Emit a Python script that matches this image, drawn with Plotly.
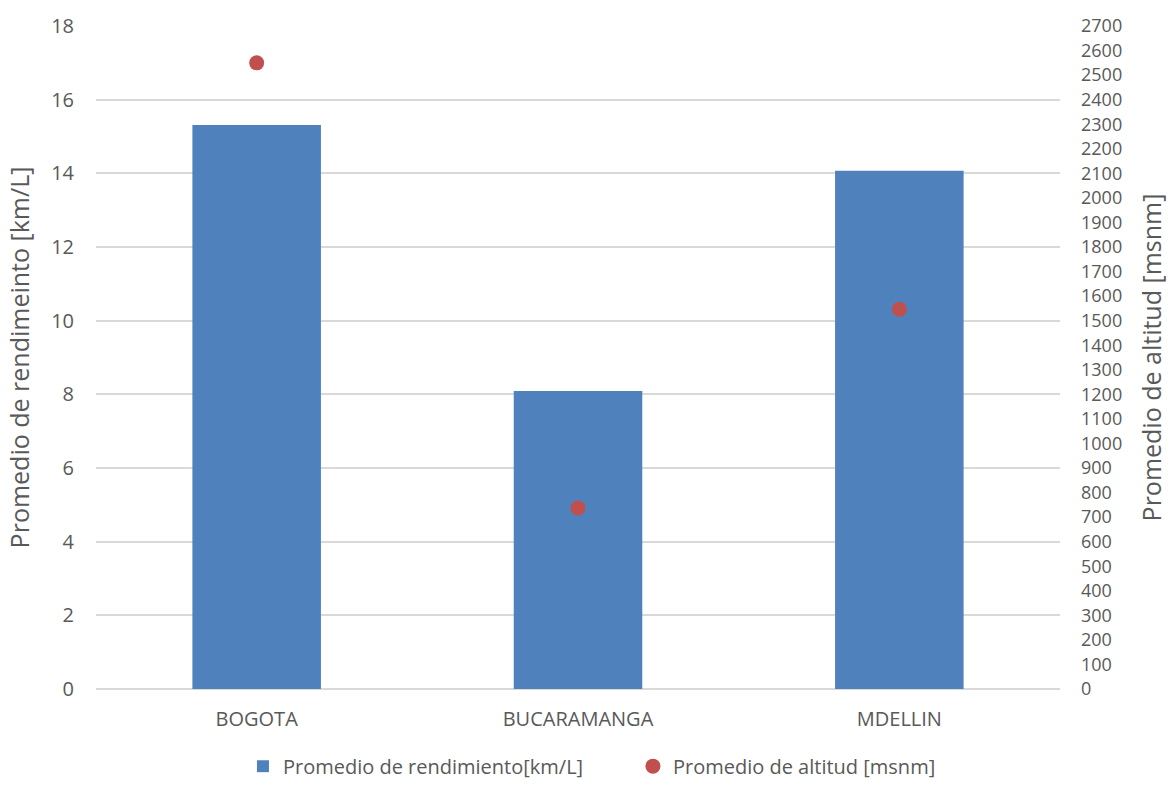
import plotly.graph_objects as go

ciudades = ["BOGOTA", "BUCARAMANGA", "MDELLIN"]
rendimiento = [15.31, 8.09, 14.07]
altitud = [2550, 737, 1546]

FONT = "Open Sans"
TXT = "#595959"

fig = go.Figure()
fig.add_trace(go.Bar(
    x=ciudades, y=rendimiento, name="Promedio de rendimiento[km/L]",
    marker=dict(color="#4f81bd", line=dict(width=0)), width=0.4, yaxis="y"))
fig.add_trace(go.Scatter(
    x=ciudades, y=altitud, name="Promedio de altitud [msnm]", mode="markers",
    marker=dict(color="#c0504d", size=15), yaxis="y2"))

fig.update_layout(
    width=1175, height=785,
    margin=dict(l=96, r=115, t=26, b=96),
    paper_bgcolor="white", plot_bgcolor="white",
    font=dict(family=FONT, color=TXT, size=20),
    xaxis=dict(showgrid=False, showline=False, ticks="", tickfont=dict(size=20, color=TXT),
               ticklabelstandoff=16),
    yaxis=dict(range=[0, 18], dtick=2, showgrid=True, gridcolor="#d9d9d9", gridwidth=1.5,
               zeroline=True, zerolinecolor="#d9d9d9", zerolinewidth=1.5,
               title=dict(text="Promedio de rendimeinto [km/L]", font=dict(size=25, color=TXT), standoff=14),
               tickfont=dict(size=20, color=TXT), ticks="", ticklabelstandoff=21),
    yaxis2=dict(range=[0, 2700], dtick=100, overlaying="y", side="right", showgrid=False,
                zeroline=False,
                title=dict(text="Promedio de altitud [msnm]", font=dict(size=25, color=TXT), standoff=22),
                tickfont=dict(size=18, color=TXT), ticklabelstandoff=20),
    legend=dict(orientation="h", x=0.557, xanchor="center",
                yref="container", y=0.024, yanchor="middle",
                font=dict(size=20, color=TXT), itemwidth=30, traceorder="normal",
                entrywidth=345, entrywidthmode="pixels"),
    bargap=0.6,
)

fig.write_html("out.html")
